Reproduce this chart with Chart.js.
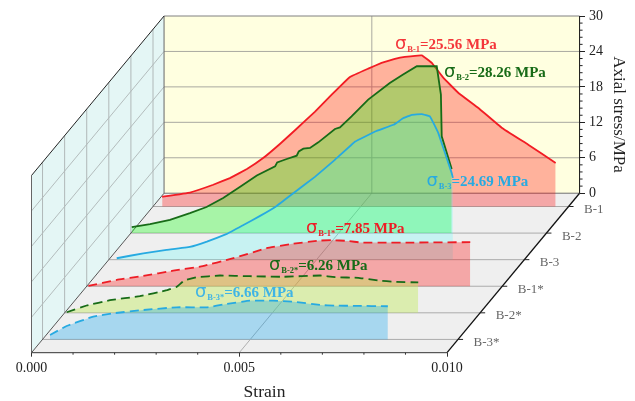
<!DOCTYPE html>
<html><head><meta charset="utf-8">
<style>html,body{margin:0;padding:0;background:#fff}canvas{display:block}</style>
<script src="https://cdn.jsdelivr.net/npm/chart.js@4"></script></head>
<body><canvas id="c" width="635" height="401"></canvas>
<script>
const categories = ['B-1','B-2','B-3','B-1*','B-2*','B-3*'];
const strainTicks = [0,0.005,0.01];
const strainMinorTicks = [0.001,0.002,0.003,0.004,0.006,0.007,0.008,0.009];
const stressTicks = [0,6,12,18,24,30];
const stressMinorTicks = [1.2,2.4,3.6,4.8,7.2,8.4,9.6,10.8,13.2,14.4,15.6,16.8,19.2,20.4,21.6,22.8,25.2,26.4,27.6,28.8];

const strainB1 = [.00022,.00089,.00145,.00185,.00226,.00265,.00306,.00343,.0039,.0043,.00474,.00518,.0055,.00582,.00606,.00647,.00671,.00699,.00735,.00783,.00839,.00903,.00969];
const stressB1 = [1.64,2.37,3.68,4.81,6.34,8.2,10.63,13,16.05,18.93,21.93,23.34,24.31,24.98,25.32,25.59,24.31,21.76,19.22,16.68,13.34,10.46,7.36];
const strainB2 = [.00002,.00046,.00094,.00142,.00182,.00222,.00262,.00303,.00347,.00352,.00375,.00399,.00404,.00415,.00431,.00451,.00491,.00503,.00531,.00571,.00623,.00655,.00688,.00736,.00746,.00748,.00772];
const stressB2 = [1.02,1.53,2.25,3.39,4.41,5.93,7.8,9.76,11.29,11.97,12.54,13.1,13.83,14.29,14.41,15.36,17.63,17.9,19.76,22.59,25.42,26.83,28.24,28.24,23.44,16.37,10.85];
const strainB3 = [.00019,.00083,.00139,.00195,.00236,.00284,.00324,.00364,.00404,.00444,.00496,.00544,.00593,.00641,.00685,.00709,.00729,.00753,.00773,.00793,.00825,.00828];
const stressB3 = [.24,1.08,1.64,2.15,3.05,4.36,5.88,7.41,9.1,11.25,14.02,16.9,20,21.69,22.83,23.97,24.53,24.64,24.24,21.42,14.69,13.85];
const strainB1s = [.00004,.00072,.00136,.00208,.00273,.00353,.00433,.00489,.00561,.0059,.00626,.00662,.00726,.00774,.00923];
const stressB1s = [.05,1.07,1.75,2.64,3.32,4.75,6.44,7.12,7.73,7.8,7.68,7.39,7.39,7.39,7.46];
const strainB2s = [.00005,.00053,.00109,.00181,.00246,.0027,.00288,.00318,.00374,.00446,.00526,.00615,.00651,.00707,.00755,.00795,.00851];
const stressB2s = [.1,1.24,2.14,2.81,3.83,4.41,5.47,6.03,6.32,6.2,6.1,6.32,6.03,5.93,5.47,5.25,5.14];
const strainB3s = [.00018,.00058,.00122,.0017,.00243,.00323,.00395,.00443,.00499,.00555,.00604,.00668,.00704,.00752,.00831];
const stressB3s = [.75,2.27,3.85,4.42,4.98,5.44,5.44,6,6.56,6.56,6.39,5.83,5.71,5.69,5.61];

const FONT = '"Liberation Serif"';
const SHIFT_X = 0.00319, SHIFT_Y = 27, X_MAX = 0.0132, Y_MAX = 57, STRAIN_END = 0.01, STRESS_END = 30;
const depthOf = i => (5 - i + 0.5) / 6;
const proj = (sx, sy, d) => ({x: sx + d * SHIFT_X, y: sy + d * SHIFT_Y});

const styles = [
 {line:'#F21C24', fill:'rgba(255,0,0,0.3)', dash:[], tension:0.05},
 {line:'#176B17', fill:'rgba(0,255,0,0.3)', dash:[], tension:0},
 {line:'#27AAE1', fill:'rgba(60,255,255,0.22)', dash:[], tension:0.05},
 {line:'#EE1C25', fill:'rgba(255,0,0,0.3)', dash:[9,5], tension:0.12},
 {line:'#176B17', fill:'rgba(190,235,80,0.4)', dash:[9,5], tension:0.05},
 {line:'#27AAE1', fill:'rgba(0,160,240,0.3)', dash:[9,5], tension:0.12}
];
const strains = [strainB1,strainB2,strainB3,strainB1s,strainB2s,strainB3s];
const stresses = [stressB1,stressB2,stressB3,stressB1s,stressB2s,stressB3s];

const datasets = categories.map((name,i)=>({
  label:name, order:5-i,
  data: strains[i].map((s,k)=>proj(s,stresses[i][k],depthOf(i))),
  borderColor:styles[i].line, backgroundColor:styles[i].fill, borderDash:styles[i].dash,
  borderWidth:1.8, pointRadius:0, tension:styles[i].tension, clip:false,
  fill:{value:depthOf(i)*SHIFT_Y}, xAxisID:'x', yAxisID:'y', borderCapStyle:'butt'
}));

const annotations = [
 {sub:'B-1',  val:'=25.56 MPa', x:395, y:48.5, color:'#F4363A'},
 {sub:'B-2',  val:'=28.26 MPa', x:444, y:77,   color:'#176B17'},
 {sub:'B-3',  val:'=24.69 MPa', x:426.5,y:186, color:'#27AAE1'},
 {sub:'B-1*', val:'=7.85 MPa',  x:306, y:233,  color:'#EE1C25'},
 {sub:'B-2*', val:'=6.26 MPa',  x:269, y:270,  color:'#176B17'},
 {sub:'B-3*', val:'=6.66 MPa',  x:195, y:296.5,color:'#3FB4E6'}
];

const walls = {
 id:'walls',
 beforeDatasetsDraw(chart){
  const {ctx, scales:{x,y}} = chart;
  const P = (sx,sy,d)=>{const p=proj(sx,sy,d);return [x.getPixelForValue(p.x),y.getPixelForValue(p.y)];};
  const poly=(pts,fill)=>{ctx.beginPath();pts.forEach((p,i)=>i?ctx.lineTo(...p):ctx.moveTo(...p));ctx.closePath();ctx.fillStyle=fill;ctx.fill();};
  const seg=(a,b,c,w=1)=>{ctx.beginPath();ctx.moveTo(...a);ctx.lineTo(...b);ctx.strokeStyle=c;ctx.lineWidth=w;ctx.stroke();};
  ctx.save();
  poly([P(0,0,1),P(STRAIN_END,0,1),P(STRAIN_END,STRESS_END,1),P(0,STRESS_END,1)],'#FFFFE0');
  poly([P(0,0,0),P(0,0,1),P(0,STRESS_END,1),P(0,STRESS_END,0)],'#E4F6F5');
  poly([P(0,0,0),P(STRAIN_END,0,0),P(STRAIN_END,0,1),P(0,0,1)],'#EFEFEF');
  stressTicks.filter(v=>v>0&&v<STRESS_END).forEach(v=>{
    seg(P(0,v,1),P(STRAIN_END,v,1),'#A9A9A0');
    seg(P(0,v,0),P(0,v,1),'#B4BDBD');
  });
  seg(P(0.005,0,1),P(0.005,STRESS_END,1),'#A9A9A0');
  categories.forEach((c,i)=>{
    const d=depthOf(i);
    seg(P(0,0,d),P(0,STRESS_END,d),'#B0B8B8');
    seg(P(0,0,d),P(STRAIN_END,0,d),'#ABABAB');
  });
  seg(P(0.005,0,0),P(0.005,0,1),'#B0B0B0');
  seg(P(0,STRESS_END,1),P(STRAIN_END,STRESS_END,1),'#808080');
  seg(P(0,0,1),P(STRAIN_END,0,1),'#707070');
  seg(P(0,0,1),P(0,STRESS_END,1),'#666');
  seg(P(0,0,0),P(0,STRESS_END,0),'#666');
  seg(P(0,0,0),P(0,0,1),'#555');
  seg(P(0,STRESS_END,0),P(0,STRESS_END,1),'#222');
  ctx.restore();
 },
 afterDatasetsDraw(chart){
  const {ctx, scales:{x,y,yAxis}} = chart;
  const P = (sx,sy,d)=>{const p=proj(sx,sy,d);return [x.getPixelForValue(p.x),y.getPixelForValue(p.y)];};
  const seg=(a,b,c,w=1)=>{ctx.beginPath();ctx.moveTo(...a);ctx.lineTo(...b);ctx.strokeStyle=c;ctx.lineWidth=w;ctx.stroke();};
  ctx.save();
  seg(P(0,0,0),P(STRAIN_END,0,0),'#333');
  seg(P(STRAIN_END,0,0),P(STRAIN_END,0,1),'#111',1.3);
  seg(P(STRAIN_END,0,1),P(STRAIN_END,STRESS_END,1),'#111');
  const bottom=P(0,0,0)[1], right=P(STRAIN_END,0,1)[0];
  strainMinorTicks.forEach(v=>{const px=x.getPixelForValue(v);seg([px,bottom],[px,bottom+2],'#333');});
  stressMinorTicks.forEach(v=>{const py=yAxis.getPixelForValue(v);seg([right,py],[right+3,py],'#222');});
  ctx.textBaseline='middle';
  categories.forEach((c,i)=>{
    const p=P(STRAIN_END,0,depthOf(i));
    seg(p,[p[0]+5,p[1]],'#222');
    ctx.fillStyle='#666';ctx.font='13px '+FONT;ctx.textAlign='left';
    ctx.fillText(c,p[0]+15.5,p[1]+3);
  });
  ctx.textBaseline='alphabetic';
  annotations.forEach(a=>{
    ctx.fillStyle=a.color;ctx.textAlign='left';
    ctx.font='18px "DejaVu Sans"';ctx.fillText('σ',a.x,a.y);
    let w=a.x+ctx.measureText('σ').width+0.8;
    ctx.font='bold 8.5px '+FONT;ctx.fillText(a.sub,w,a.y+3);
    w+=ctx.measureText(a.sub).width;
    ctx.font='bold 15px '+FONT;ctx.fillText(a.val,w,a.y);
  });
  ctx.fillStyle='#222';ctx.font='17.5px '+FONT;ctx.textAlign='center';
  ctx.fillText('Strain',264.5,397);
  ctx.save();ctx.translate(614,114.5);ctx.rotate(Math.PI/2);
  ctx.font='17px '+FONT;ctx.fillText('Axial stress/MPa',0,0);ctx.restore();
  ctx.restore();
 }
};

new Chart(document.getElementById('c'),{
 type:'line',
 data:{datasets},
 plugins:[walls],
 options:{
  responsive:false, animation:false, parsing:false, normalized:false,
  layout:{padding:{left:31.5,top:16,right:0,bottom:0}},
  plugins:{legend:{display:false},tooltip:{enabled:false}},
  scales:{
   x:{type:'linear',position:'bottom',min:0,max:X_MAX,
      afterBuildTicks(s){s.ticks=strainTicks.map(v=>({value:v}));},
      afterFit(s){s.height=48.3;},
      border:{display:false},
      grid:{drawOnChartArea:false,drawTicks:true,tickLength:4,color:'#333'},
      ticks:{autoSkip:false,maxRotation:0,color:'#222',padding:3,font:{family:FONT,size:14},
        callback:v=>v.toFixed(3)}},
   y:{type:'linear',display:false,min:0,max:Y_MAX},
   yAxis:{type:'linear',position:'right',min:STRESS_END-Y_MAX,max:STRESS_END,
      afterBuildTicks(s){s.ticks=stressTicks.map(v=>({value:v}));},
      afterFit(s){s.width=55;},
      border:{display:false},
      grid:{drawOnChartArea:false,drawTicks:true,tickLength:5,color:'#222'},
      ticks:{autoSkip:false,color:'#222',padding:4,font:{family:FONT,size:14},
        callback:v=>String(v)}}
  }
 }
});
</script></body></html>
